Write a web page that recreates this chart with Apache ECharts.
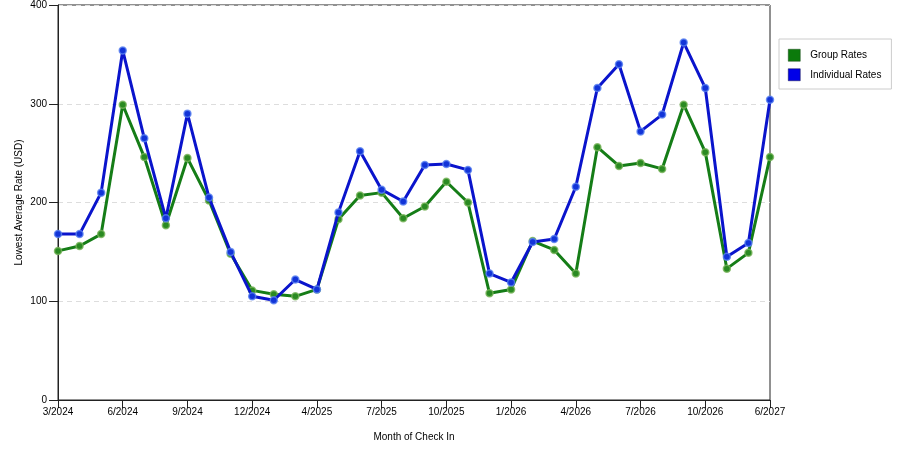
<!DOCTYPE html>
<html>
<head>
<meta charset="utf-8">
<script src="https://cdn.jsdelivr.net/npm/echarts@6/dist/echarts.min.js"></script>
<style>
  html, body { margin: 0; padding: 0; background: #fff; }
  #chart { width: 900px; height: 450px; }
</style>
</head>
<body>
<div id="chart"></div>
<script>
// months of check in (only every 3rd one is labelled on the axis)
var months = [
    '3/2024', '4/2024', '5/2024', '6/2024', '7/2024', '8/2024', '9/2024', '10/2024', '11/2024',
    '12/2024', '1/2025', '2/2025', '4/2025', '5/2025', '6/2025', '7/2025', '8/2025', '9/2025',
    '10/2025', '11/2025', '12/2025', '1/2026', '2/2026', '3/2026', '4/2026', '5/2026', '6/2026',
    '7/2026', '8/2026', '9/2026', '10/2026', '11/2026', '1/2027', '6/2027'
];
var groupRates = [
    151, 156, 168, 299, 246, 177, 245, 202, 148, 111, 107, 105,
    112, 183, 207, 210, 184, 196, 221, 200, 108, 112, 161, 152,
    128, 256, 237, 240, 234, 299, 251, 133, 149, 246
];
var individualRates = [
    168, 168, 210, 354, 265, 184, 290, 205, 150, 105, 101, 122,
    112, 190, 252, 213, 201, 238, 239, 233, 128, 119, 160, 163,
    216, 316, 340, 272, 289, 362, 316, 145, 159, 304
];
var yTicks = [0, 100, 200, 300, 400];

var font = 'Liberation Sans, Arial, sans-serif';

var option = {
    animation: false,
    backgroundColor: '#fff',
    textStyle: { fontFamily: font },
    grid: {
        left: 58,
        right: 130,
        top: 4,
        bottom: 50,
        show: true,
        borderColor: '#222',
        borderWidth: 1
    },
    legend: {
        orient: 'vertical',
        left: 779,
        top: 39,
        padding: [10, 10, 8, 9],
        itemGap: 7,
        itemWidth: 12,
        itemHeight: 12,
        icon: 'rect',
        borderColor: '#ccc',
        borderWidth: 1,
        textStyle: { fontSize: 10, color: '#000', fontFamily: font, padding: [0, 0, 0, 5] },
        data: [
            { name: 'Group Rates', itemStyle: { color: '#0b7a0b', borderColor: '#1c4a1c', borderWidth: 0.5 } },
            { name: 'Individual Rates', itemStyle: { color: '#0000e8', borderColor: '#10104a', borderWidth: 0.5 } }
        ]
    },
    xAxis: {
        type: 'category',
        boundaryGap: false,
        data: months,
        name: 'Month of Check In',
        nameLocation: 'middle',
        nameGap: 32,
        nameTextStyle: { fontSize: 10, color: '#000' },
        axisLine: { lineStyle: { color: '#222' } },
        axisTick: { interval: 2, length: 8, lineStyle: { color: '#222' } },
        axisLabel: { interval: 2, fontSize: 10, color: '#000', margin: 7 },
        splitLine: { show: false }
    },
    yAxis: {
        type: 'value',
        min: yTicks[0],
        max: yTicks[yTicks.length - 1],
        interval: 100,
        name: 'Lowest Average Rate (USD)',
        nameLocation: 'middle',
        nameGap: 34,
        nameMoveOverlap: false,
        nameTextStyle: { fontSize: 10, color: '#000' },
        axisLine: { show: true, lineStyle: { color: '#222' } },
        axisTick: { show: true, inside: false, length: 9, lineStyle: { color: '#222' } },
        axisLabel: { fontSize: 10, color: '#000', margin: 11 },
        splitLine: { lineStyle: { color: '#ddd', type: [5, 4] } }
    },
    series: [
        {
            name: 'Group Rates',
            type: 'line',
            data: groupRates,
            symbol: 'circle',
            symbolSize: 7,
            lineStyle: { width: 3, color: '#157d17' },
            itemStyle: { color: '#2a8a22', borderColor: 'rgba(120,180,90,0.8)', borderWidth: 1.5 },
            z: 2
        },
        {
            name: 'Individual Rates',
            type: 'line',
            data: individualRates,
            symbol: 'circle',
            symbolSize: 7,
            lineStyle: { width: 3, color: '#0a14cc' },
            itemStyle: { color: '#1234d8', borderColor: 'rgba(90,130,240,0.8)', borderWidth: 1.5 },
            z: 3
        }
    ]
};

var myChart = echarts.init(document.getElementById('chart'));
myChart.setOption(option);
</script>
</body>
</html>
